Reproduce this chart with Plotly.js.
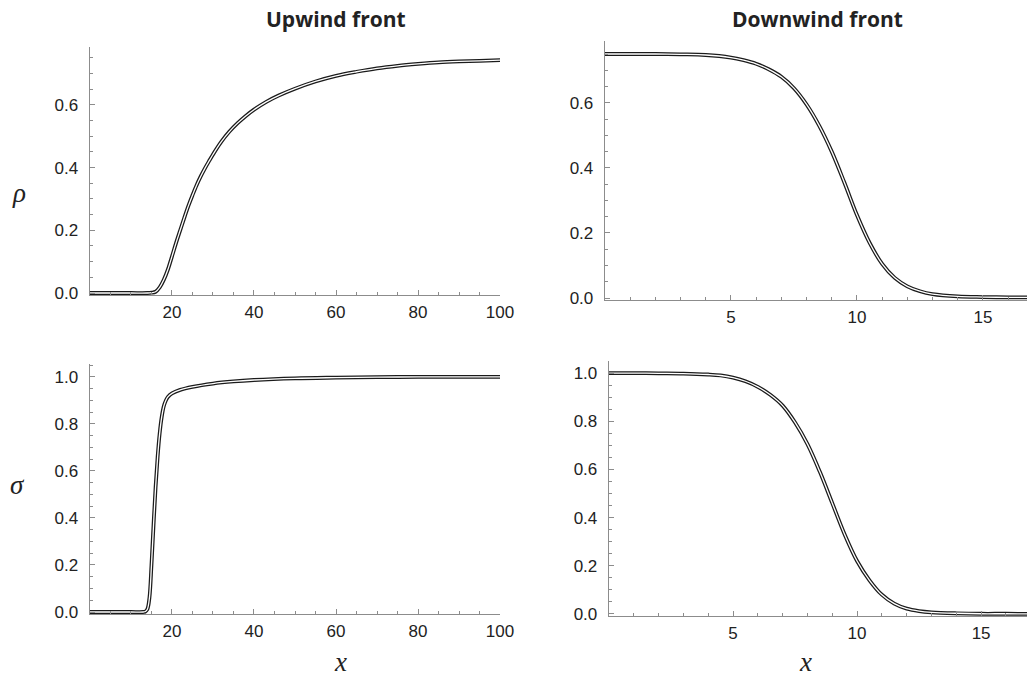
<!DOCTYPE html>
<html>
<head>
<meta charset="utf-8">
<script src="https://cdn.plot.ly/plotly-3.0.1.min.js"></script>
<style>
  html, body { margin: 0; padding: 0; background: #fff; }
  #chart { width: 1027px; height: 679px; }
</style>
</head>
<body>
<div id="chart"></div>
<script>
// ---- Data ----
const upRhoX   = [0, 5, 10, 14, 15, 16, 17, 18, 19, 20, 21, 22, 23, 24, 25, 26, 27, 28, 29, 30, 32, 34, 36, 38, 40, 43, 46, 50, 55, 60, 65, 70, 75, 80, 85, 90, 95, 100];
const upRho    = [0, 0, 0, 0, 0.001, 0.004, 0.018, 0.042, 0.075, 0.117, 0.16, 0.2, 0.24, 0.278, 0.312, 0.344, 0.372, 0.397, 0.42, 0.442, 0.482, 0.515, 0.542, 0.565, 0.585, 0.61, 0.63, 0.652, 0.675, 0.693, 0.706, 0.717, 0.725, 0.731, 0.736, 0.739, 0.741, 0.743];

const upSigmaX = [0, 5, 10, 13, 13.5, 14, 14.5, 15, 15.5, 16, 16.5, 17, 17.5, 18, 18.5, 19, 20, 22, 25, 30, 35, 40, 50, 60, 70, 80, 90, 100];
const upSigma  = [0, 0, 0, 0, 0.002, 0.012, 0.06, 0.2, 0.37, 0.53, 0.66, 0.76, 0.83, 0.875, 0.9, 0.915, 0.93, 0.945, 0.958, 0.972, 0.981, 0.987, 0.994, 0.997, 0.999, 1.0, 1.0, 1.0];

const downRhoX = [0, 1, 2, 3, 4, 5, 5.5, 6, 6.5, 7, 7.5, 8, 8.5, 9, 9.5, 10, 10.5, 11, 11.5, 12, 12.5, 13, 14, 15, 16, 17];
const downRho  = [0.75, 0.75, 0.75, 0.749, 0.747, 0.739, 0.731, 0.72, 0.703, 0.68, 0.645, 0.595, 0.53, 0.45, 0.355, 0.255, 0.17, 0.105, 0.062, 0.036, 0.021, 0.012, 0.005, 0.003, 0.002, 0.002];

const downSigmaX = [0, 1, 2, 3, 4, 4.5, 5, 5.5, 6, 6.5, 7, 7.5, 8, 8.5, 9, 9.5, 10, 10.5, 11, 11.5, 12, 12.5, 13, 14, 15, 16, 17];
const downSigma  = [1.0, 1.0, 0.999, 0.998, 0.994, 0.99, 0.981, 0.966, 0.943, 0.91, 0.865, 0.795, 0.705, 0.59, 0.46, 0.33, 0.22, 0.14, 0.08, 0.043, 0.022, 0.012, 0.007, 0.003, 0.001, 0.001, 0];

const upXTicks   = [20, 40, 60, 80, 100];
const downXTicks = [5, 10, 15];
const rhoYTicks  = [0, 0.2, 0.4, 0.6];
const sigYTicks  = [0, 0.2, 0.4, 0.6, 0.8, 1.0];

const titles = ['Upwind front', 'Downwind front'];
const yLabels = ['ρ', 'σ'];
const xLabel = 'x';

// ---- Styling ----
const AX = '#8c8c8c';
const tickFont = { family: 'Liberation Sans', size: 17, color: '#222' };

function doubleLine(x, y, xa, ya) {
  return [
    { x, y, xaxis: xa, yaxis: ya, type: 'scatter', mode: 'lines',
      line: { color: '#1b1b1b', width: 3.8, shape: 'spline', smoothing: 1 }, hoverinfo: 'skip' },
    { x, y, xaxis: xa, yaxis: ya, type: 'scatter', mode: 'lines',
      line: { color: '#ffffff', width: 1.3, shape: 'spline', smoothing: 1 }, hoverinfo: 'skip' }
  ];
}

function xAxis(domain, range, anchor, vals, minorStep) {
  return {
    domain, range, anchor,
    showline: true, linecolor: AX, linewidth: 1.3,
    ticks: 'inside', ticklen: 5, tickwidth: 1, tickcolor: AX,
    tickmode: 'array', tickvals: vals, ticktext: vals.map(String),
    tickfont: tickFont, ticklabelstandoff: 1,
    minor: { tickmode: 'linear', tick0: 0, dtick: minorStep, ticks: 'inside', ticklen: 3, tickcolor: AX, showgrid: false },
    showgrid: false, zeroline: false, fixedrange: true
  };
}

function yAxis(domain, range, anchor, vals) {
  return {
    domain, range, anchor,
    showline: true, linecolor: AX, linewidth: 1.3,
    ticks: 'inside', ticklen: 5, tickwidth: 1, tickcolor: AX,
    tickmode: 'array', tickvals: vals, ticktext: vals.map(v => v.toFixed(1)),
    tickfont: tickFont, ticklabelstandoff: 7,
    minor: { tickmode: 'linear', tick0: 0, dtick: 0.05, ticks: 'inside', ticklen: 3, tickcolor: AX, showgrid: false },
    showgrid: false, zeroline: false, fixedrange: true
  };
}

const data = [].concat(
  doubleLine(upRhoX, upRho, 'x', 'y'),
  doubleLine(downRhoX, downRho, 'x2', 'y2'),
  doubleLine(upSigmaX, upSigma, 'x3', 'y3'),
  doubleLine(downSigmaX, downSigma, 'x4', 'y4')
);

const titleFont = { family: 'Open Sans, sans-serif', size: 21, color: '#222', weight: 700 };
const symFont = { family: 'Liberation Serif, Times New Roman, serif', size: 27, color: '#222' };

const layout = {
  width: 1027, height: 679,
  margin: { l: 0, r: 0, t: 0, b: 0 },
  paper_bgcolor: '#fff', plot_bgcolor: 'rgba(0,0,0,0)',
  showlegend: false,
  xaxis:  xAxis([0.0876, 0.4869], [0, 100], 'y', upXTicks, 5),
  yaxis:  yAxis([0.5657, 0.9308], [-0.006, 0.785], 'x', rhoYTicks),
  xaxis2: xAxis([0.5891, 1.0], [0, 16.75], 'y2', downXTicks, 1),
  yaxis2: yAxis([0.5582, 0.9396], [-0.006, 0.79], 'x2', rhoYTicks),
  xaxis3: xAxis([0.0876, 0.4869], [0, 100], 'y3', upXTicks, 5),
  yaxis3: yAxis([0.0959, 0.4639], [-0.008, 1.055], 'x3', sigYTicks),
  xaxis4: xAxis([0.593, 1.0], [0, 16.85], 'y4', downXTicks, 1),
  yaxis4: yAxis([0.0929, 0.4683], [-0.008, 1.05], 'x4', sigYTicks),
  annotations: [
    { text: '<b>' + titles[0] + '</b>', xref: 'paper', yref: 'paper', x: 336 / 1027, y: 1 - 19 / 679,
      xanchor: 'center', yanchor: 'middle', showarrow: false, font: titleFont },
    { text: '<b>' + titles[1] + '</b>', xref: 'paper', yref: 'paper', x: 817 / 1027, y: 1 - 19 / 679,
      xanchor: 'center', yanchor: 'middle', showarrow: false, font: titleFont },
    { text: '<i>' + yLabels[0] + '</i>', xref: 'paper', yref: 'paper', x: 19 / 1027, y: 1 - 193 / 679,
      xanchor: 'center', yanchor: 'middle', showarrow: false, font: symFont },
    { text: '<i>' + yLabels[1] + '</i>', xref: 'paper', yref: 'paper', x: 17 / 1027, y: 1 - 485 / 679,
      xanchor: 'center', yanchor: 'middle', showarrow: false, font: symFont },
    { text: '<i>' + xLabel + '</i>', xref: 'paper', yref: 'paper', x: 340 / 1027, y: 0,
      xanchor: 'center', yanchor: 'bottom', showarrow: false, font: symFont },
    { text: '<i>' + xLabel + '</i>', xref: 'paper', yref: 'paper', x: 805 / 1027, y: 0,
      xanchor: 'center', yanchor: 'bottom', showarrow: false, font: symFont }
  ]
};

Plotly.newPlot('chart', data, layout, { displayModeBar: false, staticPlot: true });
</script>
</body>
</html>
